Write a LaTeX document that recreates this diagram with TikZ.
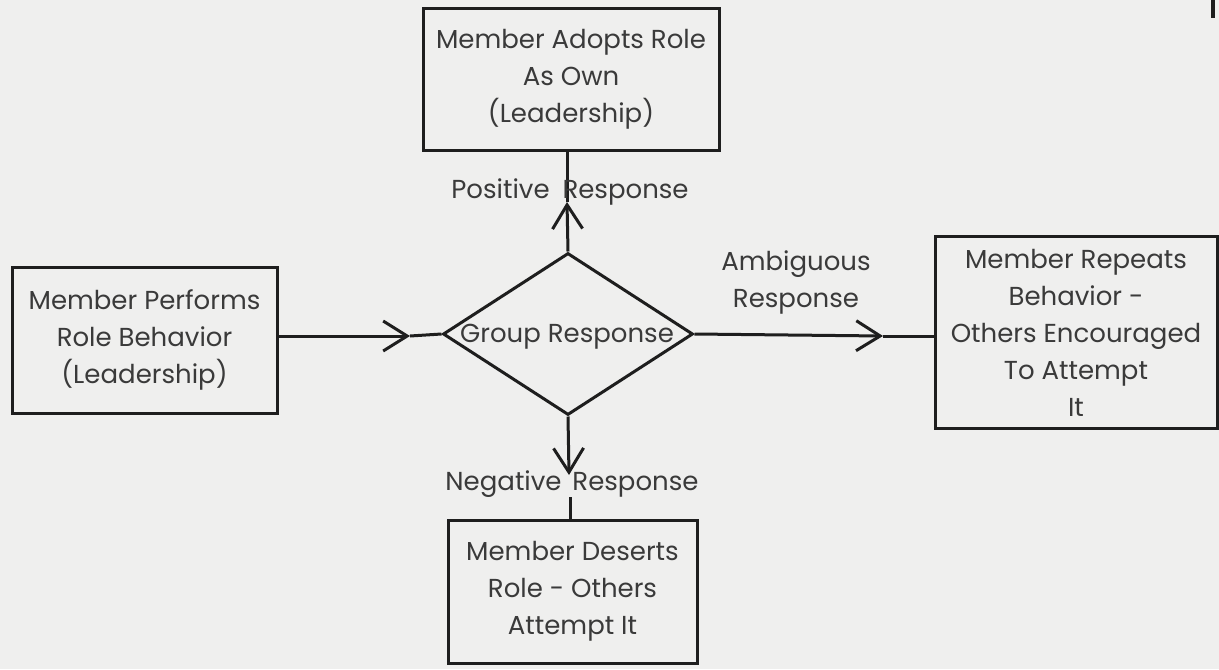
\documentclass[tikz,border=0pt]{standalone}
\usepackage{fontspec}
\setmainfont{Poppins}
\usetikzlibrary{arrows.meta,shapes.geometric}
\definecolor{paper}{HTML}{EFEFEE}
\definecolor{ink}{HTML}{1E1E1E}
\definecolor{txt}{HTML}{3A3A3A}
\begin{document}
\begin{tikzpicture}[x=0.5pt,y=-0.5pt,
  box/.style={draw=ink,line width=1.5pt,rectangle,inner sep=0pt,align=center,text=txt,
    font=\fontsize{13}{18.5}\selectfont},
  lbl/.style={text=txt,align=center,inner sep=0pt,font=\fontsize{13}{18.5}\selectfont},
  conn/.style={draw=ink,line width=1.5pt},
  tip/.style={conn,-{Straight Barb[length=12pt,width=15pt,line width=1.5pt]}}]
\fill[paper] (0,0) rectangle (1219,669);
\useasboundingbox (0,0) rectangle (1219,669);

\node[box,minimum width=148pt,minimum height=71pt] (top) at (571,79)
  {Member Adopts Role\\As Own\\(Leadership)};
\node[box,minimum width=132.5pt,minimum height=73pt] (left) at (144.5,340)
  {Member Performs\\Role Behavior\\(Leadership)};
\node[box,minimum width=141pt,minimum height=96pt] (right) at (1076,332.5)
  {Member Repeats\\Behavior -\\Others Encouraged\\To Attempt\\It};
\node[box,minimum width=124.5pt,minimum height=71.5pt] (bot) at (572.5,591.5)
  {Member Deserts\\Role - Others\\Attempt It};

\node[diamond,draw=ink,line width=1.5pt,inner sep=0pt,
  minimum width=125pt,minimum height=81pt] (gr) at (568,334) {};
\node[lbl] (grt) at (567,337) {Group Response};

\coordinate (tu) at (567,202);
\coordinate (tl) at (410,336);
\coordinate (tr) at (883,336);
\coordinate (td) at (569,475);

\draw[tip] (gr.north) -- (tu);
\draw[conn] (tu) -- (top.south -| tu);
\draw[tip] (left.east |- tl) -- (tl);
\draw[conn] (tl) -- (gr.west);
\draw[tip] (gr.east) -- (tr);
\draw[conn] (tr) -- (right.west |- tr);
\draw[tip] (gr.south) -- (td);
\coordinate (dl) at (570,497);
\draw[conn] (dl) -- (bot.north -| dl);

\node[lbl] (pos) at (570,192) {Positive\hspace{3pt} Response};
\node[lbl] (neg) at (572,484) {Negative\hspace{2pt} Response};
\node[lbl] (amb) at (796,282) {Ambiguous\\Response};

\coordinate (m1) at (1213,0);
\coordinate (m2) at (1213,18);
\draw[ink,line width=2pt] (m1) -- (m2);
\end{tikzpicture}
\end{document}
